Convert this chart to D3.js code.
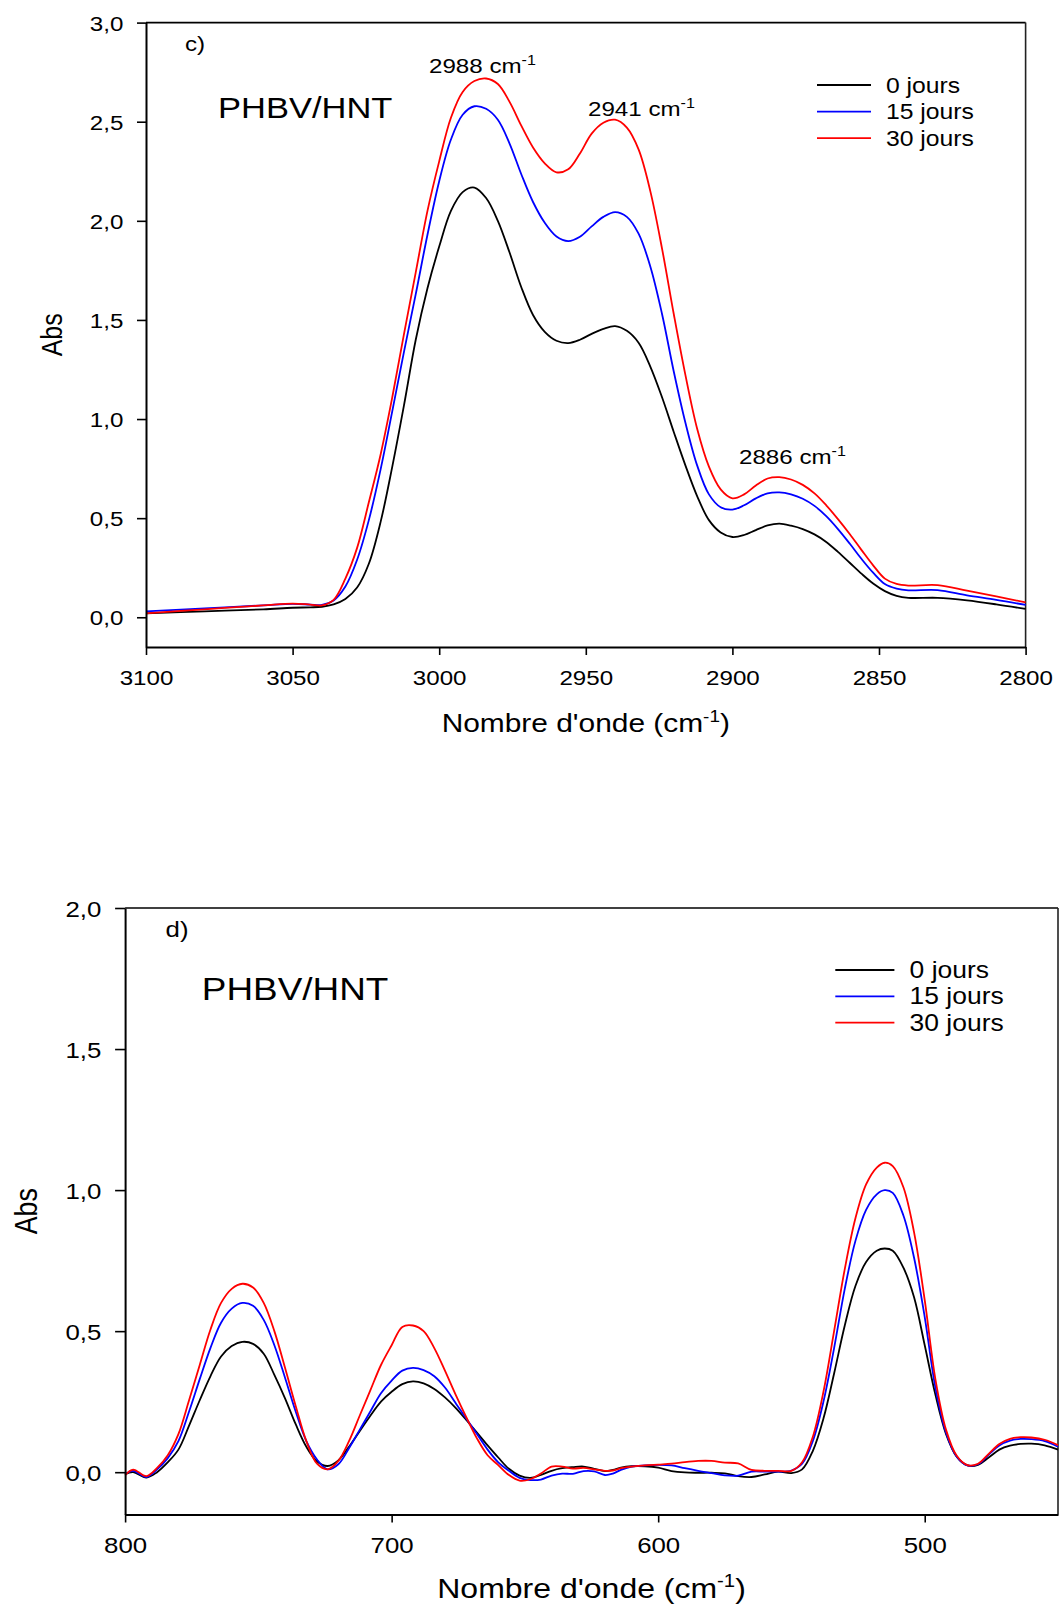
<!DOCTYPE html>
<html lang="fr">
<head>
<meta charset="utf-8">
<title>PHBV/HNT - FTIR</title>
<script src="https://cdn.jsdelivr.net/npm/d3@7"></script>
<style>
  body { margin: 0; background: #fff; }
  svg { display: block; }
  text { font-family: "Liberation Sans", Arial, Helvetica, sans-serif; fill: #000; }
</style>
</head>
<body>
<script>
// ---- data ----
var seriesNames = ["0 jours", "15 jours", "30 jours"];
var seriesColors = ["#000000", "#0000ff", "#ff0000"];

// panel c) 3100-2800 cm-1
var wnTop = [3100,3080,3060,3050,3044,3040,
  3036,3032,3028,3024,3020,3016,3012,3008,3004,3000,
  2996,2992,2988,2984,2980,2976,2972,2968,2964,2960,
  2956,2952,2948,2944,2940,2936,2932,2928,2924,2920,
  2916,2912,2908,2904,2900,2896,2892,2888,2884,2880,
  2876,2872,2868,2864,2860,2856,2852,2848,2844,2840,
  2830,2820,2810,2800];
var top0 = [0.020,0.030,0.040,0.048,0.050,0.053,
  0.065,0.092,0.150,0.270,0.480,0.760,1.070,1.400,1.660,1.870,
  2.050,2.145,2.168,2.115,2.000,1.840,1.665,1.525,1.440,1.395,
  1.383,1.400,1.430,1.455,1.469,1.445,1.385,1.265,1.110,0.935,
  0.765,0.610,0.490,0.428,0.405,0.415,0.440,0.463,0.472,0.462,
  0.445,0.418,0.380,0.330,0.275,0.220,0.170,0.132,0.108,0.098,
  0.098,0.085,0.065,0.042];
var top15 = [0.030,0.045,0.060,0.068,0.064,0.062,
  0.085,0.155,0.290,0.490,0.745,1.040,1.340,1.630,1.930,2.200,
  2.410,2.535,2.578,2.565,2.510,2.390,2.235,2.095,1.990,1.921,
  1.898,1.920,1.972,2.020,2.044,2.020,1.935,1.770,1.530,1.240,
  0.980,0.765,0.620,0.555,0.543,0.565,0.600,0.625,0.630,0.620,
  0.598,0.562,0.510,0.445,0.372,0.295,0.225,0.168,0.145,0.136,
  0.137,0.110,0.088,0.062];
var top30 = [0.020,0.040,0.060,0.069,0.064,0.060,
  0.088,0.195,0.350,0.580,0.820,1.110,1.430,1.740,2.050,2.300,
  2.520,2.650,2.705,2.718,2.690,2.600,2.480,2.370,2.290,2.245,
  2.260,2.340,2.440,2.495,2.510,2.470,2.360,2.150,1.860,1.530,
  1.220,0.950,0.760,0.645,0.600,0.620,0.665,0.700,0.707,0.695,
  0.668,0.625,0.565,0.495,0.420,0.340,0.262,0.195,0.168,0.160,
  0.162,0.134,0.105,0.075];

// panel d) 800-450 cm-1
var wnBot = [800,797,792,788,784,780,776,772,768,764,
  760,756,752,748,744,740,736,732,728,724,
  720,716,712,708,704,700,696,692,688,684,
  680,676,672,668,664,660,656,652,648,644,
  640,636,632,628,624,620,617,614,610,605,
  600,595,590,585,580,575,570,565,560,555,
  550,546,542,538,534,530,526,522,518,515,
  512,508,504,500,496,492,488,484,480,476,
  472,468,464,460,455,450];
var bot0 = [-0.007,0.000,-0.019,0.000,0.035,0.080,0.165,0.255,0.340,0.410,
  0.447,0.462,0.455,0.420,0.345,0.262,0.170,0.090,0.038,0.022,
  0.042,0.090,0.145,0.200,0.250,0.285,0.312,0.322,0.315,0.295,
  0.265,0.228,0.185,0.140,0.095,0.052,0.012,-0.012,-0.020,-0.010,
  0.005,0.014,0.018,0.020,0.012,0.004,0.008,0.016,0.021,0.021,
  0.016,0.004,-0.001,-0.002,-0.002,-0.004,-0.014,-0.017,-0.008,0.002,
  -0.003,0.010,0.075,0.190,0.350,0.520,0.660,0.745,0.785,0.793,
  0.785,0.725,0.620,0.450,0.275,0.135,0.055,0.024,0.026,0.052,
  0.080,0.094,0.100,0.101,0.095,0.080];
var bot15 = [-0.007,0.005,-0.017,0.010,0.050,0.110,0.215,0.330,0.440,0.530,
  0.580,0.600,0.590,0.540,0.450,0.335,0.215,0.110,0.045,0.010,
  0.028,0.085,0.150,0.215,0.280,0.325,0.360,0.370,0.362,0.340,
  0.300,0.245,0.190,0.135,0.080,0.035,0.005,-0.020,-0.028,-0.026,
  -0.012,-0.005,-0.006,0.004,0.003,-0.010,-0.005,0.008,0.020,0.024,
  0.026,0.024,0.014,0.005,-0.003,-0.011,-0.012,0.002,0.002,0.002,
  0.006,0.030,0.110,0.250,0.440,0.650,0.820,0.930,0.985,1.000,
  0.990,0.910,0.760,0.550,0.300,0.140,0.055,0.024,0.028,0.062,
  0.095,0.112,0.118,0.117,0.110,0.090];
var bot30 = [-0.011,0.009,-0.014,0.015,0.060,0.135,0.255,0.380,0.505,0.600,
  0.650,0.668,0.655,0.600,0.500,0.370,0.235,0.110,0.030,0.010,
  0.040,0.110,0.200,0.290,0.380,0.450,0.515,0.520,0.500,0.440,
  0.360,0.275,0.195,0.120,0.060,0.025,-0.010,-0.030,-0.025,-0.005,
  0.020,0.020,0.013,0.015,0.010,0.005,0.006,0.014,0.020,0.024,
  0.027,0.030,0.036,0.040,0.040,0.034,0.031,0.008,0.005,0.005,
  0.005,0.035,0.125,0.285,0.500,0.720,0.900,1.020,1.080,1.097,
  1.085,1.010,0.850,0.610,0.330,0.150,0.058,0.025,0.030,0.065,
  0.100,0.118,0.124,0.123,0.115,0.096];

var xTicksTop = [3100,3050,3000,2950,2900,2850,2800];
var yTicksTop = [0,0.5,1,1.5,2,2.5,3];
var xTicksBot = [800,700,600,500];
var yTicksBot = [0,0.5,1,1.5,2];

var peakLabels = [
  {wn: "2988", x: 429, y: 73},
  {wn: "2941", x: 588, y: 116},
  {wn: "2886", x: 739, y: 464}
];

// ---- drawing ----
var W = 1059, H = 1605;
var SX = 1.15;   // the original picture is stretched sideways
var svg = d3.select("body").append("svg").attr("width", W).attr("height", H);

function txt(g, x, y, s, size, anchor) {
  return g.append("text")
    .attr("transform", "translate(" + x + "," + y + ") scale(" + SX + ",1)")
    .attr("font-size", size)
    .attr("text-anchor", anchor || "start")
    .text(s);
}

function sup(t, s, size, shift) {
  t.append("tspan").attr("font-size", size).attr("dy", -shift).text(s);
}

var commaFmt = function(v) { return d3.format(".1f")(v).replace(".", ","); };

function panel(p) {
  var k = p.fs;   // text size factor of the panel
  var g = svg.append("g");
  var x = d3.scaleLinear().domain(p.xDomain).range([p.left, p.right]);
  var y = d3.scaleLinear().domain(p.yDomain).range([p.bottom, p.top]);

  // frame top + right
  g.append("line").attr("x1", p.left).attr("x2", p.right).attr("y1", p.top).attr("y2", p.top)
    .attr("stroke", "#000").attr("stroke-width", 1.6);
  g.append("line").attr("x1", p.right).attr("x2", p.right).attr("y1", p.top).attr("y2", p.bottom)
    .attr("stroke", "#222").attr("stroke-width", 1.6);

  var line = d3.line()
    .x(function(d) { return x(d[0]); })
    .y(function(d) { return y(d[1]); })
    .curve(d3.curveCatmullRom.alpha(0.5));

  p.series.forEach(function(vals, i) {
    g.append("path")
      .datum(d3.zip(p.wn, vals))
      .attr("fill", "none")
      .attr("stroke", seriesColors[i])
      .attr("stroke-width", 1.8)
      .attr("d", line);
  });

  var gx = g.append("g")
    .attr("transform", "translate(0," + p.bottom + ")")
    .call(d3.axisBottom(x).tickValues(p.xTicks).tickSizeInner(8).tickSizeOuter(0).tickFormat(d3.format("d")));
  gx.select(".domain").attr("stroke-width", 2);
  gx.selectAll(".tick line").attr("stroke-width", 1.6);
  gx.attr("font-size", 21 * k).attr("font-family", null);
  gx.selectAll(".tick text")
    .attr("y", null).attr("dy", null).attr("fill", "#000")
    .attr("transform", "translate(0,38) scale(" + SX + ",1)");

  var gy = g.append("g")
    .attr("transform", "translate(" + p.left + ",0)")
    .call(d3.axisLeft(y).tickValues(p.yTicks).tickSizeInner(p.yTick).tickSizeOuter(0).tickFormat(commaFmt));
  gy.select(".domain").attr("stroke-width", 2);
  gy.selectAll(".tick line").attr("stroke-width", 1.6);
  gy.attr("font-size", 21 * k).attr("font-family", null);
  gy.selectAll(".tick text")
    .attr("x", null).attr("dy", null).attr("fill", "#000")
    .attr("transform", "translate(" + (-p.yGap) + "," + (7.5 * k) + ") scale(" + SX + ",1)");

  // axis titles
  var t = txt(g, (p.left + p.right) / 2, p.xTitleY, "Nombre d'onde (cm", 26 * k, "middle");
  sup(t, "-1", 16.5 * k, 10 * k);
  t.append("tspan").attr("font-size", 26 * k).attr("dy", 10 * k).text(")");

  g.append("text")
    .attr("transform", "translate(" + p.yTitleX + "," + ((p.top + p.bottom) / 2) + ") rotate(-90) scale(1," + SX + ")")
    .attr("font-size", 25 * k).attr("text-anchor", "middle").text("Abs");

  // panel letter + sample name
  txt(g, p.letterX, p.letterY, p.letter, 21 * k);
  txt(g, p.nameX, p.nameY, "PHBV/HNT", 30 * k);

  // legend
  seriesNames.forEach(function(n, i) {
    var ly = p.legY + i * p.legStep;
    g.append("line").attr("x1", p.legX1).attr("x2", p.legX2)
      .attr("y1", ly - 7.5 * k).attr("y2", ly - 7.5 * k)
      .attr("stroke", seriesColors[i]).attr("stroke-width", 1.8);
    txt(g, p.legTextX, ly, n, 21.5 * k);
  });

  return g;
}

var gTop = panel({
  fs: 1,
  left: 146, right: 1025.6, top: 22.6, bottom: 647,
  xDomain: [3100, 2800], yDomain: [-0.15, 3.0],
  wn: wnTop, series: [top0, top15, top30],
  xTicks: xTicksTop, yTicks: yTicksTop, yTick: 9, yGap: 22.6,
  xTitleY: 732, yTitleX: 62,
  letter: "c)", letterX: 185, letterY: 51,
  nameX: 218, nameY: 117.5,
  legX1: 817, legX2: 871, legTextX: 886, legY: 92.5, legStep: 26.6
});

peakLabels.forEach(function(d) {
  var t = txt(gTop, d.x, d.y, d.wn + " cm", 21);
  sup(t, "-1", 14, 8);
});

panel({
  fs: 1.07,
  left: 125.1, right: 1058, top: 908, bottom: 1514.5,
  xDomain: [800, 450], yDomain: [-0.15, 2.0],
  wn: wnBot, series: [bot0, bot15, bot30],
  xTicks: xTicksBot, yTicks: yTicksBot, yTick: 10, yGap: 23.7,
  xTitleY: 1598, yTitleX: 37,
  letter: "d)", letterX: 165.6, letterY: 937,
  nameX: 201.8, nameY: 1000,
  legX1: 835.3, legX2: 894.4, legTextX: 909.6, legY: 978, legStep: 26.3
});
</script>
</body>
</html>
